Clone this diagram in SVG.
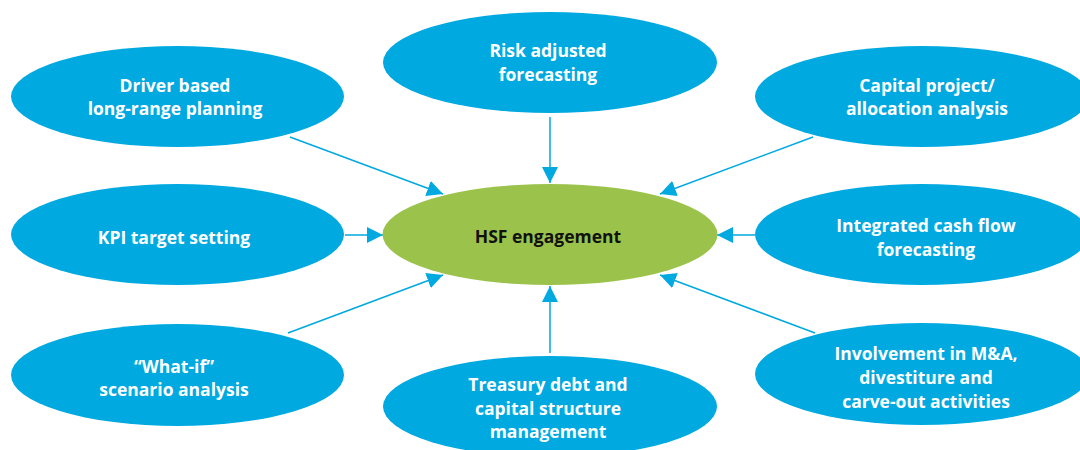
<svg xmlns="http://www.w3.org/2000/svg" width="1080" height="450" viewBox="0 0 1080 450">
  <style>
    .node { fill: #00a9e0; }
    .hub { fill: #9bc34b; }
    .lbl { font-family: "Open Sans", "Liberation Sans", sans-serif; font-weight: bold; font-size: 17.5px; fill: #ffffff; text-anchor: middle; }
    .hub-lbl { fill: #111111; }
    .conn { stroke: #00a9e0; stroke-width: 1.5; fill: none; marker-end: url(#arrow); }
  </style>
  <defs>
    <marker id="arrow" viewBox="0 0 16 16" refX="16" refY="8" markerWidth="16" markerHeight="16" markerUnits="userSpaceOnUse" orient="auto">
      <path d="M0,0 L16,8 L0,16 Z" fill="#00a9e0"/>
    </marker>
  </defs>
  <rect width="1080" height="450" fill="#ffffff"/>

  <g id="connectors">
    <line class="conn" x1="290" y1="137" x2="443" y2="194"/>
    <line class="conn" x1="550" y1="117" x2="550" y2="183"/>
    <line class="conn" x1="813" y1="137" x2="660" y2="194"/>
    <line class="conn" x1="345" y1="235" x2="383" y2="235"/>
    <line class="conn" x1="755" y1="235" x2="717" y2="235"/>
    <line class="conn" x1="288" y1="333" x2="443" y2="275"/>
    <line class="conn" x1="550" y1="353" x2="550" y2="286"/>
    <line class="conn" x1="815" y1="333" x2="660" y2="275"/>
  </g>

  <g id="hsf-engagement">
    <ellipse class="hub" cx="550" cy="234.5" rx="167.5" ry="50.5"/>
    <text class="lbl hub-lbl" x="548" y="243">HSF engagement</text>
  </g>

  <g id="driver-based-planning">
    <ellipse class="node" cx="177.5" cy="96.5" rx="166.5" ry="50.5"/>
    <text class="lbl" x="175" y="91.5">Driver based</text>
    <text class="lbl" x="175" y="115">long-range planning</text>
  </g>

  <g id="risk-adjusted-forecasting">
    <ellipse class="node" cx="550" cy="62.5" rx="167" ry="50.5"/>
    <text class="lbl" x="548" y="57">Risk adjusted</text>
    <text class="lbl" x="548" y="81">forecasting</text>
  </g>

  <g id="capital-project">
    <ellipse class="node" cx="922" cy="96.5" rx="167" ry="50.5"/>
    <text class="lbl" x="927" y="92">Capital project/</text>
    <text class="lbl" x="927" y="115">allocation analysis</text>
  </g>

  <g id="kpi-target-setting">
    <ellipse class="node" cx="177.5" cy="234.5" rx="166.5" ry="50.5"/>
    <text class="lbl" x="174" y="244">KPI target setting</text>
  </g>

  <g id="integrated-cash-flow">
    <ellipse class="node" cx="922" cy="234.5" rx="167" ry="50.5"/>
    <text class="lbl" x="926" y="232">Integrated cash flow</text>
    <text class="lbl" x="926" y="256">forecasting</text>
  </g>

  <g id="what-if-analysis">
    <ellipse class="node" cx="177.5" cy="375" rx="166.5" ry="51"/>
    <text class="lbl" x="174" y="373">“What-if”</text>
    <text class="lbl" x="174" y="396">scenario analysis</text>
  </g>

  <g id="treasury-debt">
    <ellipse class="node" cx="550" cy="406.5" rx="167" ry="50.5"/>
    <text class="lbl" x="548" y="391">Treasury debt and</text>
    <text class="lbl" x="548" y="415">capital structure</text>
    <text class="lbl" x="548" y="438">management</text>
  </g>

  <g id="mergers-acquisitions">
    <ellipse class="node" cx="922" cy="374" rx="167" ry="51"/>
    <text class="lbl" x="926" y="360">Involvement in M&amp;A,</text>
    <text class="lbl" x="926" y="384">divestiture and</text>
    <text class="lbl" x="926" y="408">carve-out activities</text>
  </g>
</svg>
